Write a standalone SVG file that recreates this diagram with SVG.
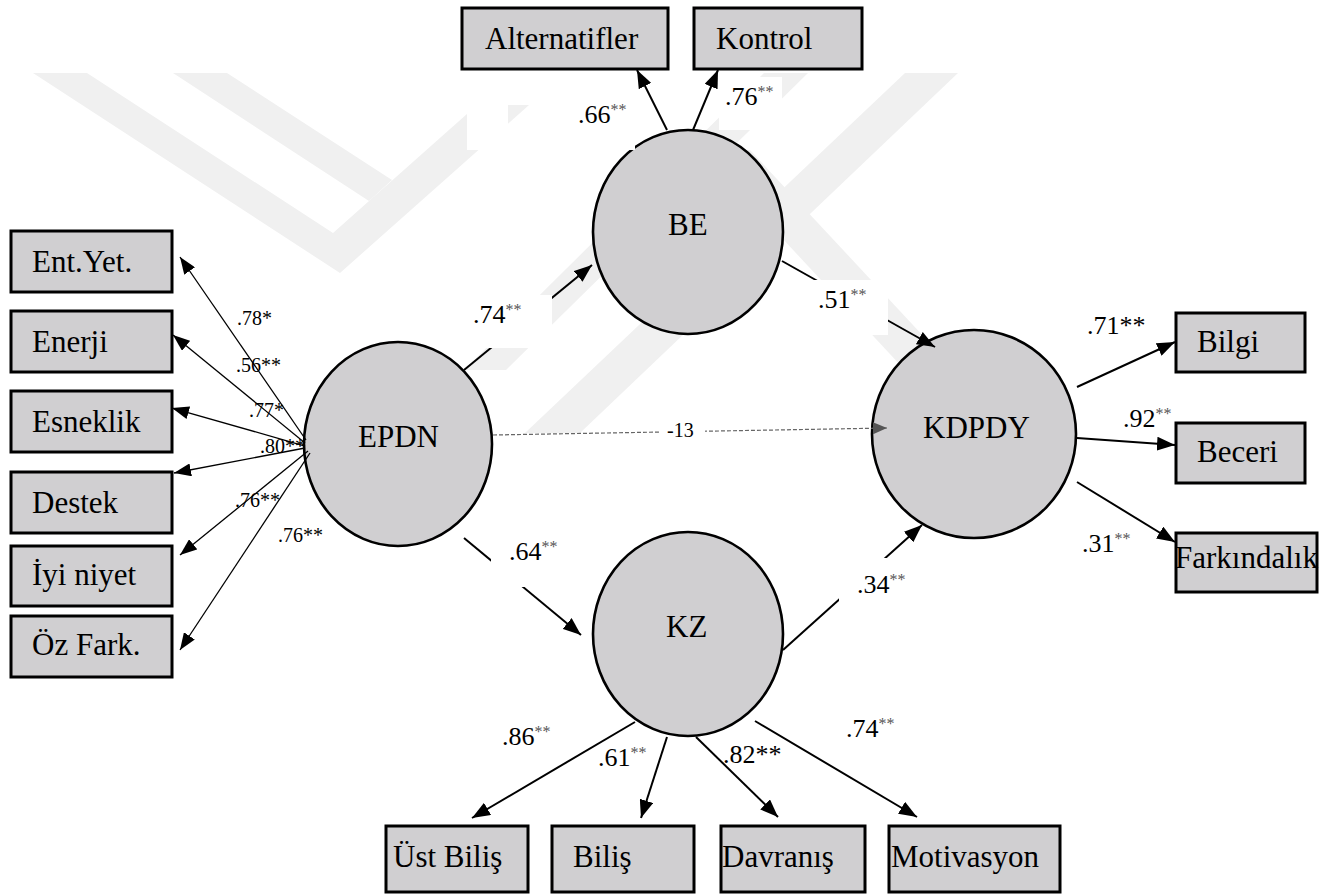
<svg xmlns="http://www.w3.org/2000/svg" width="1332" height="896" viewBox="0 0 1332 896" font-family="'Liberation Serif', 'Times New Roman', 'DejaVu Serif', serif">
<style>
text{font-family:'Liberation Serif','Times New Roman','DejaVu Serif',serif;fill:#000}
.nt{font-size:31px}
.lb{font-size:26px}
.ls{font-size:20px}
.sup{font-size:16px;fill:#555}
.box{fill:#d0cfd1;stroke:#000;stroke-width:3}
.lat{fill:#d0cfd1;stroke:#000;stroke-width:2.6}
.c{stroke:#000;stroke-width:2;fill:none;marker-end:url(#ah)}
.ct{stroke:#000;stroke-width:1.3;fill:none;marker-end:url(#ahs)}
.cd{stroke:#666;stroke-width:1.2;stroke-dasharray:4 2;fill:none;marker-end:url(#ahg)}
.wm{fill:#f0f0f0}
.wb{fill:#fff}
</style>
<defs>
<marker id="ah" viewBox="0 0 18 14" refX="18" refY="7" markerWidth="18" markerHeight="14" markerUnits="userSpaceOnUse" orient="auto"><path d="M0,0 L18,7 L0,14 z" fill="#000"/></marker>
<marker id="ahs" viewBox="0 0 17 13" refX="17" refY="6.5" markerWidth="17" markerHeight="13" markerUnits="userSpaceOnUse" orient="auto"><path d="M0,0 L17,6.5 L0,13 z" fill="#000"/></marker>
<marker id="ahg" viewBox="0 0 14 12" refX="14" refY="6" markerWidth="14" markerHeight="12" markerUnits="userSpaceOnUse" orient="auto"><path d="M0,0 L14,6 L0,12 z" fill="#555"/></marker>
</defs>
<rect width="1332" height="896" fill="#fff"/>
<g id="watermark">
<polygon class="wm" points="33,73 87,73 333,233 513,73 565,73 340,273"/>
<polygon class="wm" points="173,73 227,73 392,180 369,201"/>
<polygon class="wm" points="905,73 958,73 580,433 525,433"/>
<polygon class="wm" points="764,73 808,73 506,370 464,370"/>
<polygon class="wm" points="700,150 750,150 1020,440 970,440"/>
<rect class="wb" x="467" y="73" width="106" height="32"/>
<rect class="wb" x="467" y="105" width="41" height="45"/>
</g>
<g id="nodes">
<g id="n-alternatifler"><rect class="box" x="462" y="8" width="206" height="61"/><text class="nt" x="485" y="49">Alternatifler</text></g>
<g id="n-kontrol"><rect class="box" x="694" y="8" width="168" height="61"/><text class="nt" x="716" y="49">Kontrol</text></g>
<g id="n-entyet"><rect class="box" x="11" y="231" width="161" height="61"/><text class="nt" x="32" y="272">Ent.Yet.</text></g>
<g id="n-enerji"><rect class="box" x="11" y="311" width="161" height="61"/><text class="nt" x="32" y="352">Enerji</text></g>
<g id="n-esneklik"><rect class="box" x="11" y="391" width="161" height="61"/><text class="nt" x="32" y="432">Esneklik</text></g>
<g id="n-destek"><rect class="box" x="11" y="472" width="161" height="61"/><text class="nt" x="32" y="513">Destek</text></g>
<g id="n-iyiniyet"><rect class="box" x="11" y="546" width="161" height="60"/><text class="nt" x="32" y="585">İyi niyet</text></g>
<g id="n-ozfark"><rect class="box" x="11" y="616" width="161" height="61"/><text class="nt" x="32" y="655">Öz Fark.</text></g>
<g id="n-bilgi"><rect class="box" x="1176" y="313" width="129" height="59"/><text class="nt" x="1197" y="352">Bilgi</text></g>
<g id="n-beceri"><rect class="box" x="1176" y="423" width="129" height="60"/><text class="nt" x="1197" y="462">Beceri</text></g>
<g id="n-farkindalik"><rect class="box" x="1176" y="533" width="141" height="59"/><text class="nt" x="1175" y="568">Farkındalık</text></g>
<g id="n-ustbilis"><rect class="box" x="386" y="826" width="142" height="66"/><text class="nt" x="393" y="867">Üst Biliş</text></g>
<g id="n-bilis"><rect class="box" x="552" y="826" width="142" height="66"/><text class="nt" x="573" y="867">Biliş</text></g>
<g id="n-davranis"><rect class="box" x="721" y="826" width="144" height="66"/><text class="nt" x="722" y="867">Davranış</text></g>
<g id="n-motivasyon"><rect class="box" x="889" y="826" width="171" height="66"/><text class="nt" x="891" y="867">Motivasyon</text></g>
<g id="n-epdn"><ellipse class="lat" cx="398" cy="444" rx="94" ry="102"/><text class="nt" x="358" y="447">EPDN</text></g>
<g id="n-be"><ellipse class="lat" cx="688" cy="232" rx="95" ry="102"/><text class="nt" x="668" y="235">BE</text></g>
<g id="n-kz"><ellipse class="lat" cx="688" cy="634" rx="95" ry="102"/><text class="nt" x="666" y="637">KZ</text></g>
<g id="n-kdpdy"><ellipse class="lat" cx="974" cy="434" rx="102" ry="104"/><text class="nt" x="923" y="438">KDPDY</text></g>
</g>
<g id="connectors">
<line class="ct" x1="306" y1="440" x2="180" y2="257"/>
<line class="ct" x1="305" y1="443" x2="173" y2="335"/>
<line class="ct" x1="305" y1="446" x2="172" y2="408"/>
<line class="ct" x1="305" y1="448" x2="174" y2="473"/>
<line class="ct" x1="308" y1="451" x2="180" y2="555"/>
<line class="ct" x1="310" y1="453" x2="180" y2="650"/>
<line class="c" x1="464" y1="370" x2="592" y2="265"/>
<line class="c" x1="464" y1="538" x2="581" y2="635"/>
<line class="c" x1="782" y1="261" x2="935" y2="347"/>
<line class="c" x1="783" y1="650" x2="922" y2="525"/>
<line class="c" x1="667" y1="130" x2="637" y2="70"/>
<line class="c" x1="693" y1="130" x2="718" y2="70"/>
<line class="c" x1="1077" y1="387" x2="1175" y2="342"/>
<line class="c" x1="1077" y1="438" x2="1175" y2="445"/>
<line class="c" x1="1077" y1="482" x2="1175" y2="542"/>
<line class="c" x1="635" y1="722" x2="472" y2="818"/>
<line class="c" x1="667" y1="737" x2="641" y2="818"/>
<line class="c" x1="696" y1="737" x2="778" y2="817"/>
<line class="c" x1="755" y1="721" x2="917" y2="817"/>
<line class="cd" x1="493" y1="435" x2="887" y2="428"/>
</g>
<g id="labels">
<rect class="wb" x="447" y="295" width="105" height="53"/>
<rect class="wb" x="802" y="280" width="86" height="55"/>
<rect class="wb" x="572" y="95" width="63" height="55"/>
<rect class="wb" x="719" y="77" width="63" height="53"/>
<rect class="wb" x="491" y="530" width="80" height="57"/>
<rect class="wb" x="839" y="558" width="75" height="46"/>
<rect class="wb" x="660" y="418" width="45" height="26"/>
<text class="lb" x="578" y="123">.66<tspan class="sup" dy="-8">**</tspan></text>
<text class="lb" x="725" y="105">.76<tspan class="sup" dy="-8">**</tspan></text>
<text class="lb" x="473" y="323">.74<tspan class="sup" dy="-8">**</tspan></text>
<text class="lb" x="818" y="308">.51<tspan class="sup" dy="-8">**</tspan></text>
<text class="lb" x="509" y="560">.64<tspan class="sup" dy="-8">**</tspan></text>
<text class="lb" x="857" y="593">.34<tspan class="sup" dy="-8">**</tspan></text>
<text class="ls" x="667" y="437">-13</text>
<text class="lb" x="1087" y="334">.71**</text>
<text class="lb" x="1123" y="427">.92<tspan class="sup" dy="-8">**</tspan></text>
<text class="lb" x="1082" y="552">.31<tspan class="sup" dy="-8">**</tspan></text>
<text class="lb" x="502" y="745">.86<tspan class="sup" dy="-8">**</tspan></text>
<text class="lb" x="598" y="766">.61<tspan class="sup" dy="-8">**</tspan></text>
<text class="lb" x="723" y="763">.82**</text>
<text class="lb" x="846" y="737">.74<tspan class="sup" dy="-8">**</tspan></text>
<text class="ls" x="237" y="325">.78*</text>
<text class="ls" x="236" y="372">.56**</text>
<text class="ls" x="249" y="417">.77*</text>
<text class="ls" x="260" y="453">.80**</text>
<text class="ls" x="235" y="507">.76**</text>
<text class="ls" x="278" y="542">.76**</text>
</g>
</svg>
